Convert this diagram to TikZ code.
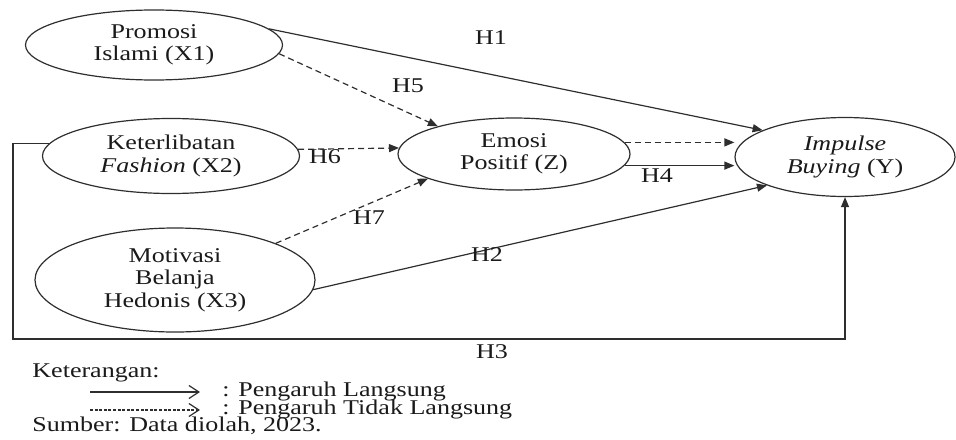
\documentclass[tikz,border=0pt]{standalone}
\usepackage{fontspec}
\setmainfont{Liberation Serif}[FakeStretch=1.24]
\usetikzlibrary{arrows.meta, shapes.geometric}
\definecolor{lineDark}{HTML}{2E2E2E}
\definecolor{textDark}{HTML}{1A1A1A}

\begin{document}
\begin{tikzpicture}[x=0.5pt, y=-0.5pt,
    every node/.style={font=\fontsize{10.5}{11.2}\selectfont, text=textDark},
    var/.style={draw=lineDark, ellipse, line width=0.6pt, inner sep=0pt, align=center},
    direct/.style={draw=lineDark, line width=0.6pt, -{Triangle[length=5pt, width=4pt]}},
    indirect/.style={direct, dash pattern=on 3pt off 2pt},
    hlabel/.style={inner sep=1pt},
    legtext/.style={anchor=west, inner sep=0pt}]
  \useasboundingbox (0,0) rectangle (956,439);
  % variabel
  \node[var, minimum width=128.5pt, minimum height=35pt] (x1) at (154,45) {Promosi\\Islami (X1)};
  \node[var, minimum width=128.5pt, minimum height=37.5pt] (x2) at (171,156) {Keterlibatan\\\textit{Fashion} (X2)};
  \node[var, minimum width=140pt, minimum height=52pt] (x3) at (175,280) {Motivasi\\Belanja\\Hedonis (X3)};
  \node[var, minimum width=116pt, minimum height=36pt] (z) at (514,154) {Emosi\\Positif (Z)};
  \node[var, minimum width=110pt, minimum height=39.5pt] (y) at (845,157) {\textit{Impulse}\\\textit{Buying} (Y)};
  % pengaruh langsung
  \draw[direct] (x1.8) -- (y.162);
  \draw[direct] (x3.-4) -- (y.200);
  \draw[direct] (z.-6) -- (z.-6 -| y.west);
  \coordinate (h3c) at (13,339);
  \draw[direct] (x2.174) -| (h3c) -| (y.south);
  % pengaruh tidak langsung
  \draw[indirect] (x1.-4) -- (z.160);
  \draw[indirect] (x2.3) -- (z.177);
  \draw[indirect] (x3.20) -- (z.196);
  \draw[indirect] (z.6) -- (z.6 -| y.west);
  % hipotesis
  \node[hlabel] (h1) at (491,38) {H1};
  \node[hlabel] (h2) at (487,255) {H2};
  \node[hlabel] (h3) at (492,352) {H3};
  \node[hlabel] (h4) at (657,176) {H4};
  \node[hlabel] (h5) at (408,86) {H5};
  \node[hlabel] (h6) at (325,157) {H6};
  \node[hlabel] (h7) at (369,218) {H7};
  % keterangan
  \node[legtext] (ket) at (32,373) {Keterangan:};
  \coordinate (lg1a) at (90,392);
  \coordinate (lg1b) at (200,392);
  \coordinate (lg2a) at (90,410);
  \coordinate (lg2b) at (200,410);
  \draw[lineDark, line width=0.6pt, -{Straight Barb[length=5pt, width=6.5pt]}] (lg1a) -- (lg1b);
  \draw[lineDark, line width=0.6pt, dash pattern=on 1.5pt off 0.8pt, -{Straight Barb[length=5pt, width=6.5pt]}] (lg2a) -- (lg2b);
  \node[legtext] (lgd1) at (222,391) {: Pengaruh Langsung};
  \node[legtext] (lgd2) at (222,409) {: Pengaruh Tidak Langsung};
  \node[legtext] (sumber) at (32,426) {Sumber: Data diolah, 2023.};
\end{tikzpicture}
\end{document}
